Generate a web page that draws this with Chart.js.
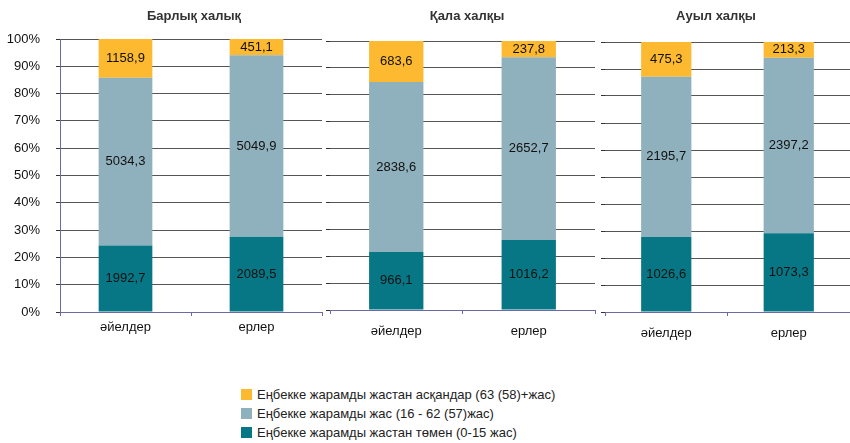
<!DOCTYPE html>
<html>
<head>
<meta charset="utf-8">
<script src="https://cdn.jsdelivr.net/npm/chart.js@4.4.1/dist/chart.umd.min.js"></script>
<style>
  body { margin: 0; background: #fff; width: 850px; height: 443px; position: relative; overflow: hidden; font-family: 'Liberation Sans', Arial, sans-serif; }
  canvas { position: absolute; top: 0; }
  .title { position: absolute; top: 8px; font-weight: bold; font-size: 13px; color: #333; white-space: nowrap; transform: translateX(-50%); }
  .legend { position: absolute; left: 241px; top: 385px; font-size: 13px; color: #222; }
  .legend div { height: 19px; display: flex; align-items: center; }
  .legend span { display: inline-block; width: 11px; height: 11px; margin-right: 5px; }
</style>
</head>
<body>
<canvas id="c0" width="326" height="345" style="left:0px"></canvas>
<canvas id="c1" width="276" height="345" style="left:322px"></canvas>
<canvas id="c2" width="252" height="345" style="left:598px"></canvas>
<div class="legend" id="legend"></div>

<script>
const panelTitles = ['Барлық халық', 'Қала халқы', 'Ауыл халқы'];
const categories = ['әйелдер', 'ерлер'];
const seriesNames = [
    'Еңбекке жарамды жастан төмен (0-15 жас)',
    'Еңбекке жарамды жас (16 - 62 (57)жас)',
    'Еңбекке жарамды жастан асқандар (63 (58)+жас)'
];
const seriesColors = ['#077785', '#8FB0BD', '#FDB930'];

// thousand people, per panel: [әйелдер, ерлер]
const under15 = [[1992.7, 2089.5], [966.1, 1016.2], [1026.6, 1073.3]];
const working = [[5034.3, 5049.9], [2838.6, 2652.7], [2195.7, 2397.2]];
const retired = [[1158.9, 451.1], [683.6, 237.8], [475.3, 213.3]];

// layout per panel (plot area placement)
const layouts = [
    { top: 39, yWidth: 60, right: 4, xHeight: 33, labelPad: 4, showY: true, titleX: 194 },
    { top: 41, yWidth: 8, right: 3, xHeight: 35, labelPad: 10, showY: false, titleX: 467 },
    { top: 42, yWidth: 7, right: 0, xHeight: 33, labelPad: 10, showY: false, titleX: 716 }
];

const fmt = v => v.toFixed(1).replace('.', ',');

const valueLabels = {
    id: 'valueLabels',
    afterDatasetsDraw(chart) {
        const ctx = chart.ctx;
        ctx.save();
        ctx.font = '13px "Liberation Sans", Arial';
        ctx.fillStyle = '#111';
        ctx.textAlign = 'center';
        ctx.textBaseline = 'middle';
        chart.data.datasets.forEach((ds, i) => {
            chart.getDatasetMeta(i).data.forEach((bar, j) => {
                const p = bar.getProps(['x', 'y', 'base'], true);
                ctx.fillText(fmt(ds.raw[j]), p.x, (p.y + p.base) / 2);
            });
        });
        ctx.restore();
    }
};

const groups = [under15, working, retired];

panelTitles.forEach((title, k) => {
    const lay = layouts[k];
    const totals = categories.map((_, j) => groups.reduce((s, g) => s + g[k][j], 0));

    const t = document.createElement('div');
    t.className = 'title';
    t.style.left = lay.titleX + 'px';
    t.textContent = title;
    document.body.appendChild(t);

    new Chart(document.getElementById('c' + k), {
        type: 'bar',
        data: {
            labels: categories,
            datasets: groups.map((g, i) => ({
                label: seriesNames[i],
                raw: g[k],
                data: g[k].map((v, j) => v / totals[j] * 100),
                backgroundColor: seriesColors[i],
                categoryPercentage: 1,
                barPercentage: 0.41
            }))
        },
        options: {
            responsive: false,
            animation: false,
            layout: { padding: { top: lay.top, right: lay.right, left: 0, bottom: 0 } },
            plugins: { legend: { display: false }, tooltip: { enabled: false } },
            scales: {
                x: {
                    stacked: true,
                    grid: { drawOnChartArea: false, color: '#6a6aa8', tickLength: 4 },
                    border: { color: '#6a6aa8' },
                    ticks: { color: '#111', font: { size: 13, family: '"Liberation Sans", Arial' }, padding: lay.labelPad },
                    afterFit: s => { s.height = lay.xHeight; }
                },
                y: {
                    stacked: true,
                    min: 0,
                    max: 100,
                    grid: { color: '#555', tickColor: '#333', tickLength: 4 },
                    border: { display: lay.showY, color: '#6a6aa8' },
                    ticks: {
                        display: lay.showY,
                        stepSize: 10,
                        padding: 16,
                        color: '#111',
                        font: { size: 13, family: '"Liberation Sans", Arial' },
                        callback: v => v + '%'
                    },
                    afterFit: s => { s.width = lay.yWidth; }
                }
            }
        },
        plugins: [valueLabels]
    });
});

const legend = document.getElementById('legend');
for (let i = seriesNames.length - 1; i >= 0; i--) {
    const row = document.createElement('div');
    const sw = document.createElement('span');
    sw.style.background = seriesColors[i];
    row.appendChild(sw);
    row.appendChild(document.createTextNode(seriesNames[i]));
    legend.appendChild(row);
}
</script>
</body>
</html>
